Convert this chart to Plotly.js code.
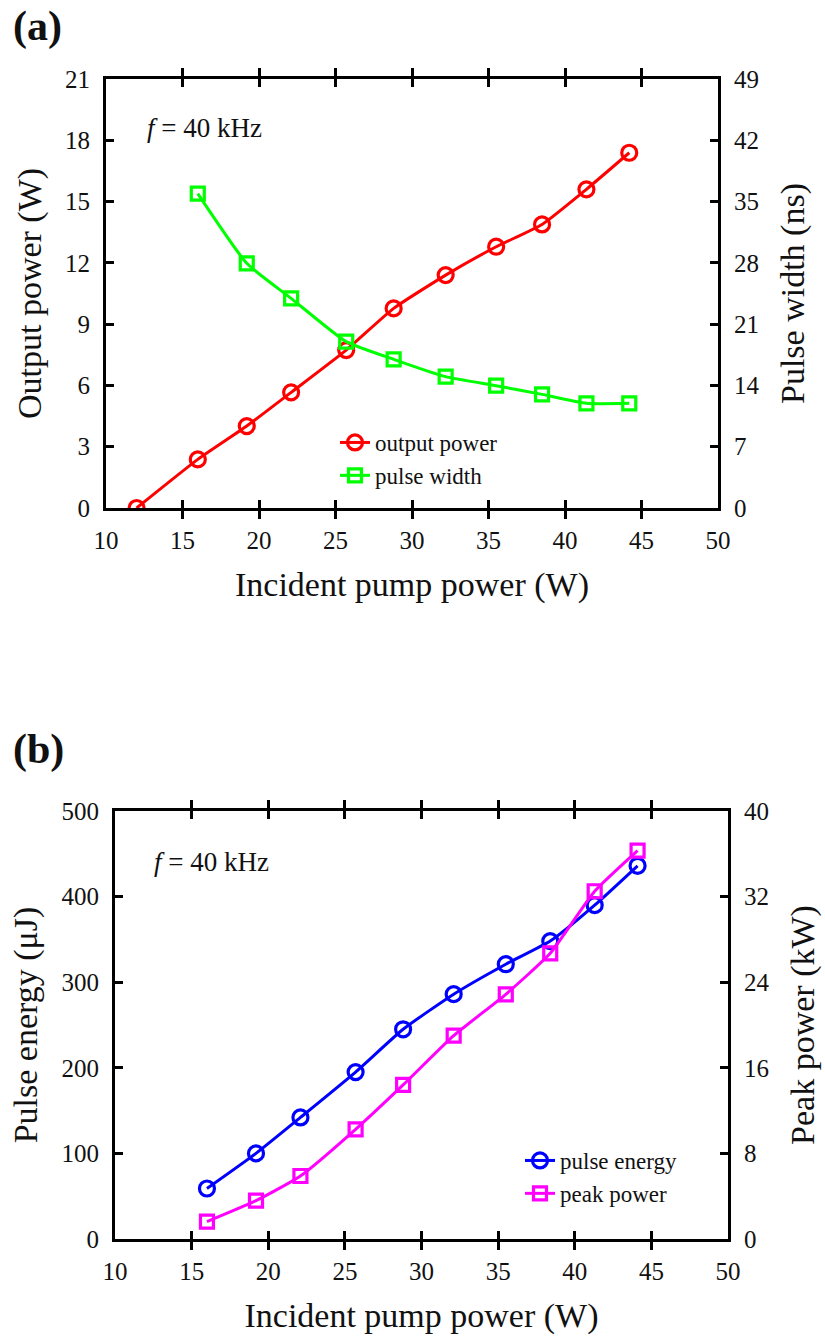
<!DOCTYPE html>
<html>
<head>
<meta charset="utf-8">
<script src="https://cdn.plot.ly/plotly-3.0.1.min.js"></script>
<style>html,body{margin:0;padding:0;background:#fff;}#chart{width:825px;height:1340px;}</style>
</head>
<body>
<div id="chart"></div>
<script>
// Panel (a)
const pumpA = [12.0, 16.0, 19.2, 22.1, 25.7, 28.8, 32.2, 35.5, 38.5, 41.4, 44.2];
const outputPower = [0, 2.38, 4.01, 5.66, 7.73, 9.77, 11.4, 12.79, 13.88, 15.6, 17.39];
const pumpPW = [16.0, 19.2, 22.1, 25.7, 28.8, 32.2, 35.5, 38.5, 41.4, 44.2];
const pulseWidth = [35.9, 27.95, 23.95, 19.0, 16.98, 15.0, 13.97, 12.98, 11.96, 11.96];
// Panel (b)
const pumpB = [16.0, 19.2, 22.1, 25.7, 28.8, 32.1, 35.5, 38.4, 41.3, 44.1];
const pulseEnergy = [59, 100, 142, 195, 245, 286, 321, 348, 390, 436];
const peakPower = [1.62, 3.58, 5.89, 10.25, 14.4, 19.0, 22.87, 26.7, 32.5, 36.3];
const xTicks = [10, 15, 20, 25, 30, 35, 40, 45, 50];
const yTicksA = [0, 3, 6, 9, 12, 15, 18, 21];
const y2TicksA = [0, 7, 14, 21, 28, 35, 42, 49];
const yTicksB = [0, 100, 200, 300, 400, 500];
const y2TicksB = [0, 8, 16, 24, 32, 40];

const W = 825, H = 1340;
const FONT = "'Liberation Serif', 'Times New Roman', serif";
const ln = {width: 3, shape: 'spline', smoothing: 0.5};

const traces = [
  {x: pumpA, y: outputPower, name: 'output power', xaxis: 'x', yaxis: 'y', mode: 'lines+markers',
   line: Object.assign({color: '#ff0000'}, ln), marker: {symbol: 'circle-open', size: 15, color: '#ff0000', line: {width: 3.2}}, legend: 'legend'},
  {x: pumpPW, y: pulseWidth, name: 'pulse width', xaxis: 'x', yaxis: 'y2', mode: 'lines+markers',
   line: Object.assign({color: '#00ff00'}, ln), marker: {symbol: 'square-open', size: 13, color: '#00ff00', line: {width: 3.2}}, legend: 'legend'},
  {x: pumpB, y: pulseEnergy, name: 'pulse energy', xaxis: 'x2', yaxis: 'y3', mode: 'lines+markers',
   line: Object.assign({color: '#0000ff'}, ln), marker: {symbol: 'circle-open', size: 15, color: '#0000ff', line: {width: 3.2}}, legend: 'legend2'},
  {x: pumpB, y: peakPower, name: 'peak power', xaxis: 'x2', yaxis: 'y4', mode: 'lines+markers',
   line: Object.assign({color: '#ff00ff'}, ln), marker: {symbol: 'square-open', size: 13, color: '#ff00ff', line: {width: 3.2}}, legend: 'legend2'}
];

const axBase = {
  showline: true, linecolor: '#000', linewidth: 3, ticks: 'inside', ticklen: 8, tickwidth: 3,
  tickcolor: '#000', showgrid: false, zeroline: false, tickfont: {family: FONT, size: 25, color: '#111'},
  ticklabelstandoff: 8
};
const titleFont = {family: FONT, size: 34, color: '#111'};

const domA = [1 - 508 / H, 1 - 79 / H];
const domB = [1 - 1239 / H, 1 - 811 / H];

const layout = {
  width: W, height: H, margin: {l: 0, r: 0, t: 0, b: 0},
  paper_bgcolor: '#fff', plot_bgcolor: '#fff', showlegend: true,
  xaxis: Object.assign({}, axBase, {domain: [106 / W, 718 / W], range: [10, 50], tickvals: xTicks, mirror: 'allticks', anchor: 'y',
    title: {text: 'Incident pump power (W)', font: titleFont, standoff: 20}}),
  yaxis: Object.assign({}, axBase, {domain: domA, range: [0, 21], tickvals: yTicksA, anchor: 'x',
    title: {text: 'Output power (W)', font: titleFont, standoff: 14}}),
  yaxis2: Object.assign({}, axBase, {domain: domA, range: [0, 49], tickvals: y2TicksA, overlaying: 'y', side: 'right', anchor: 'x',
    title: {text: 'Pulse width (ns)', font: titleFont, standoff: 22}}),
  xaxis2: Object.assign({}, axBase, {domain: [115 / W, 728 / W], range: [10, 50], tickvals: xTicks, mirror: 'allticks', anchor: 'y3',
    title: {text: 'Incident pump power (W)', font: titleFont, standoff: 20}}),
  yaxis3: Object.assign({}, axBase, {domain: domB, range: [0, 500], tickvals: yTicksB, anchor: 'x2',
    title: {text: 'Pulse energy (μJ)', font: titleFont, standoff: 14}}),
  yaxis4: Object.assign({}, axBase, {domain: domB, range: [0, 40], tickvals: y2TicksB, overlaying: 'y3', side: 'right', anchor: 'x2',
    title: {text: 'Peak power (kW)', font: titleFont, standoff: 22}}),
  legend: {x: 335 / W, y: 1 - 421 / H, xanchor: 'left', yanchor: 'top', bgcolor: 'rgba(0,0,0,0)',
    font: {family: FONT, size: 23, color: '#111'}, tracegroupgap: 0, itemwidth: 30},
  legend2: {x: 520 / W, y: 1 - 1139 / H, xanchor: 'left', yanchor: 'top', bgcolor: 'rgba(0,0,0,0)',
    font: {family: FONT, size: 23, color: '#111'}, tracegroupgap: 0, itemwidth: 30},
  annotations: [
    {text: '<b>(a)</b>', x: 11 / W, y: 1 - 26 / H, xref: 'paper', yref: 'paper', xanchor: 'left', yanchor: 'middle', showarrow: false,
     font: {family: FONT, size: 42, color: '#111'}},
    {text: '<b>(b)</b>', x: 11 / W, y: 1 - 750 / H, xref: 'paper', yref: 'paper', xanchor: 'left', yanchor: 'middle', showarrow: false,
     font: {family: FONT, size: 42, color: '#111'}},
    {text: '<i>f</i> = 40 kHz', x: 145 / W, y: 1 - 128 / H, xref: 'paper', yref: 'paper', xanchor: 'left', yanchor: 'middle', showarrow: false,
     font: {family: FONT, size: 27, color: '#111'}},
    {text: '<i>f</i> = 40 kHz', x: 152 / W, y: 1 - 862 / H, xref: 'paper', yref: 'paper', xanchor: 'left', yanchor: 'middle', showarrow: false,
     font: {family: FONT, size: 27, color: '#111'}}
  ]
};

Plotly.newPlot('chart', traces, layout, {displayModeBar: false, staticPlot: true});
</script>
</body>
</html>
